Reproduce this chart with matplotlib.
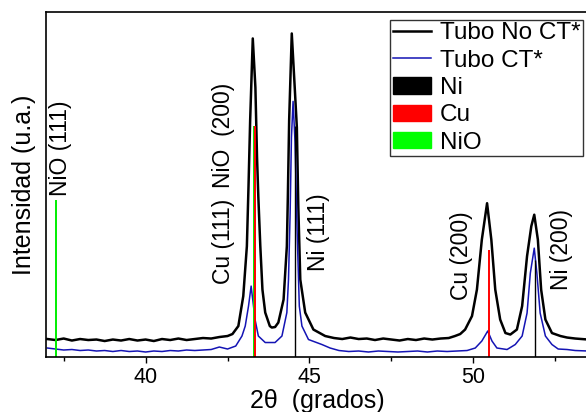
import matplotlib
matplotlib.use("Agg")
import matplotlib.pyplot as plt
from matplotlib.patches import Patch
from matplotlib.ticker import MultipleLocator

plt.rcParams["font.family"] = ["Liberation Sans", "DejaVu Sans"]

# XRD pattern, tubo sin tratamiento
tt_noct = [37.0, 37.25, 37.5, 37.75, 38.0, 38.25, 38.5, 38.75, 39.0, 39.25, 39.5,
           39.75, 40.0, 40.25, 40.5, 40.75, 41.0, 41.25, 41.5, 41.75, 42.0, 42.25,
           42.5, 42.65, 42.83, 42.98, 43.09, 43.14, 43.19, 43.27, 43.35, 43.40,
           43.44, 43.50, 43.565, 43.65, 43.79, 43.85, 43.95, 44.05, 44.21, 44.31,
           44.34, 44.38, 44.46, 44.55, 44.615, 44.66, 44.72, 44.87, 45.12, 45.48,
           45.75, 46.0, 46.25, 46.5, 46.75, 47.0, 47.25, 47.5, 47.75, 48.0, 48.25,
           48.5, 48.75, 49.0, 49.25, 49.44, 49.6, 49.75, 49.96, 50.11, 50.26,
           50.42, 50.55, 50.67, 50.82, 50.98, 51.13, 51.33, 51.49, 51.64, 51.77,
           51.86, 51.97, 52.07, 52.20, 52.40, 52.66, 52.86, 53.11, 53.5]
i_noct = [18, 17, 18.5, 16.5, 18, 17, 17.5, 16, 17.5, 16.5, 18,
          16.5, 17.5, 16, 18, 17, 18.5, 17, 18, 19, 18.5, 20,
          21, 23, 31, 61, 111, 171, 237, 319, 270, 200,
          160, 111, 67.5, 44.5, 31, 29.5, 30, 34.5, 57.5, 111,
          160, 237, 324, 270, 230, 150, 77.5, 44.5, 27.5, 21,
          19, 18, 19.5, 18, 18.5, 17, 18.5, 17.5, 16.5, 18, 17,
          18.5, 17.5, 18.5, 19, 21, 23, 27.5, 41, 67.5, 117.5,
          154, 117.5, 67.5, 37.5, 24, 22.5, 27.5, 51, 101, 131,
          142.5, 117.5, 67.5, 37.5, 24, 21, 19.5, 18.5, 17.5]

# XRD pattern, tubo con tratamiento
tt_ct = [37.0, 37.25, 37.5, 37.75, 38.0, 38.25, 38.5, 38.75, 39.0, 39.25, 39.5,
         39.75, 40.0, 40.25, 40.5, 40.75, 41.0, 41.25, 41.5, 41.75, 42.0, 42.25,
         42.5, 42.75, 42.94, 43.04, 43.14, 43.22, 43.34, 43.44, 43.65, 43.95,
         44.16, 44.31, 44.36, 44.41, 44.45, 44.50, 44.56, 44.62, 44.69, 44.77,
         44.97, 45.38, 45.63, 45.9, 46.2, 46.5, 46.8, 47.1, 47.4, 47.7, 48.0,
         48.3, 48.6, 48.9, 49.2, 49.5, 49.81, 50.06, 50.26, 50.44, 50.57, 50.72,
         51.03, 51.28, 51.49, 51.64, 51.74, 51.86, 51.94, 52.04, 52.20, 52.40,
         52.59, 52.86, 53.11, 53.5]
i_ct = [9, 8, 7, 7.5, 6.5, 7, 6, 6.5, 5.5, 6.5, 5.5,
        6, 5, 6, 5.5, 6.5, 6, 7, 6.5, 7, 7.5, 10,
        8, 11, 21, 31, 51, 71, 37.5, 21, 14.5, 14.5,
        21, 44.5, 77.5, 144, 220, 256, 215, 130, 51, 31,
        17.5, 12.5, 9, 6.5, 5.5, 6, 5, 6, 5.5, 5, 5.5,
        6, 5, 6, 5.5, 6, 6.5, 9, 16, 26, 16, 9,
        7.5, 12.5, 21, 44, 84, 109, 84, 44, 21, 12.5,
        8, 7.5, 6.5, 6]

# reference peaks
ref_pos = [37.26, 43.30, 43.34, 44.55, 50.49, 51.89]
ref_int = [157.5, 231.5, 231.5, 231.5, 107.5, 97]
ref_col = ["#00ee00", "#00ee00", "#ff0000", "black", "#ff0000", "black"]

# peak labels
lab_txt = ["NiO (111)", "Cu (111)", "NiO  (200)", "Ni (111)", "Cu (200)", "Ni (200)"]
lab_x = [37.41, 42.37, 42.37, 45.27, 49.63, 52.69]
lab_y = [209, 116, 222, 124.5, 101.5, 108]

fig = plt.figure(figsize=(5.86, 4.12), dpi=100)
ax = fig.add_axes([46 / 586, 55 / 412, 542 / 586, 345 / 412])

ax.plot(tt_noct, i_noct, color="black", lw=1.8, label="Tubo No CT*")
ax.plot(tt_ct, i_ct, color="#1414b4", lw=1.1, label="Tubo CT*")
for p, h, c in zip(ref_pos, ref_int, ref_col):
    ax.vlines(p, 0, h, color=c, lw=1.4 if c != "black" else 1.0)

for t, x, y in zip(lab_txt, lab_x, lab_y):
    ax.text(x, y, t, rotation=90, ha="center", va="center", fontsize=16.5)

ax.set_xlim(36.96, 53.5)
ax.set_ylim(0, 345.5)
ax.set_yticks([])
ax.xaxis.set_major_locator(MultipleLocator(5))
ax.xaxis.set_minor_locator(MultipleLocator(2.5))
ax.tick_params(axis="x", which="major", direction="out", length=4, width=1, labelsize=15.5, pad=3)
ax.tick_params(axis="x", which="minor", direction="out", length=3, width=1)
ax.spines["right"].set_visible(False)
for s in ["left", "top", "bottom"]:
    ax.spines[s].set_linewidth(1.2)

ax.set_xlabel("2\u03b8  (grados)", fontsize=18, labelpad=1)
ax.set_ylabel("Intensidad (u.a.)", fontsize=18, labelpad=7)

handles, labels = ax.get_legend_handles_labels()
handles += [Patch(color="black"), Patch(color="#ff0000"), Patch(color="#00ff00")]
labels += ["Ni", "Cu", "NiO"]
leg = fig.legend(handles, labels, loc="upper right", bbox_to_anchor=(583 / 586, 1 - 20 / 412),
                 fontsize=17.5, frameon=True, fancybox=False, framealpha=1,
                 borderpad=0.1, labelspacing=0.22, handlelength=1.6, handleheight=0.66,
                 handletextpad=0.35, borderaxespad=0)
leg.get_frame().set_edgecolor("#333333")
leg.get_frame().set_linewidth(1.0)

fig.savefig("out.png", dpi=100)
